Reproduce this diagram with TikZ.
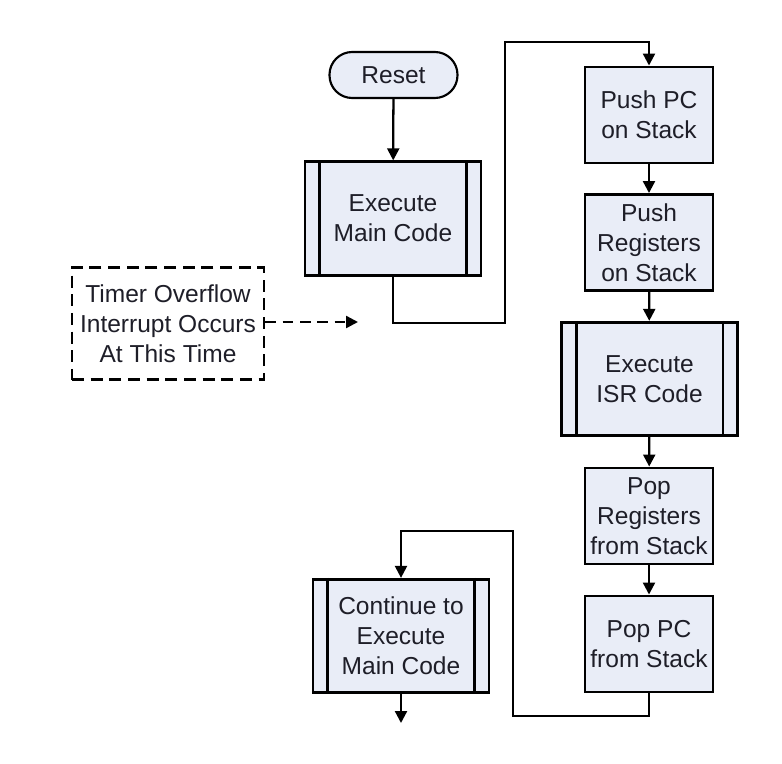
\documentclass[tikz,border=0pt]{standalone}
\usepackage{fontspec}
\setmainfont{Liberation Sans}
\usetikzlibrary{arrows.meta}
\definecolor{boxfill}{RGB}{233,237,247}
\definecolor{txt}{RGB}{30,30,40}
\begin{document}
\begin{tikzpicture}[x=0.75pt,y=-0.75pt,
  every node/.style={font=\fontsize{18.4}{22.5}\selectfont, text=txt, align=center, inner sep=0pt},
  proc/.style={draw=black, line width=2.2pt, fill=boxfill, minimum width=96pt, minimum height=72pt},
  predef/.style={draw=black, line width=2.2pt, fill=boxfill, minimum width=132pt, minimum height=85pt},
  term/.style={draw=black, line width=1.6pt, fill=boxfill, rounded corners=17pt, minimum width=96pt, minimum height=34.5pt},
  note/.style={draw=black, line width=2pt, dash pattern=on 9pt off 5pt, minimum width=144pt, minimum height=84pt},
  conn/.style={line width=1.7pt, -{Triangle[length=9pt,width=9pt]}},
  dconn/.style={line width=1.8pt, dash pattern=on 8pt off 5pt, -{Triangle[length=9pt,width=9pt]}},
  inner/.style={line width=2.2pt}
]
\useasboundingbox (0,0) rectangle (782,764);

\node[term] (reset) at (393.5,75) {Reset};
\node[predef] (main) at (393,218.5) {Execute\\Main Code};
\draw[inner] ([xshift=12pt]main.north west) -- ([xshift=12pt]main.south west);
\draw[inner] ([xshift=-12pt]main.north east) -- ([xshift=-12pt]main.south east);

\node[note] (timer) at (168,323.5) {Timer Overflow\\Interrupt Occurs\\At This Time};
\coordinate (tip) at (358,322);
\draw[dconn] (timer.east |- tip) -- (tip);

\node[proc] (pushpc) at (649,115) {Push PC\\on Stack};
\node[proc] (pushreg) at (649,242.5) {Push\\Registers\\on Stack};
\node[predef] (isr) at (649.5,379) {Execute\\ISR Code};
\draw[inner] ([xshift=12pt]isr.north west) -- ([xshift=12pt]isr.south west);
\draw[inner] ([xshift=-12pt]isr.north east) -- ([xshift=-12pt]isr.south east);
\node[proc] (popreg) at (649,516) {Pop\\Registers\\from Stack};
\node[proc] (poppc) at (649,644) {Pop PC\\from Stack};

\node[predef] (cont) at (401,636) {Continue to\\Execute\\Main Code};
\draw[inner] ([xshift=12pt]cont.north west) -- ([xshift=12pt]cont.south west);
\draw[inner] ([xshift=-12pt]cont.north east) -- ([xshift=-12pt]cont.south east);
\coordinate (out) at (401,723);

\coordinate (a1) at (393,323);
\coordinate (a2) at (505,323);
\coordinate (a3) at (505,42);
\coordinate (a4) at (649,42);
\coordinate (b1) at (649,716);
\coordinate (b2) at (513,716);
\coordinate (b3) at (513,531);
\coordinate (b4) at (401,531);

\draw[conn] (reset) -- (main);
\draw[conn] (main.south) -- (a1) -- (a2) -- (a3) -- (a4) -- (pushpc.north);
\draw[conn] (pushpc) -- (pushreg);
\draw[conn] (pushreg) -- (isr);
\draw[conn] (isr) -- (popreg);
\draw[conn] (popreg) -- (poppc);
\draw[conn] (poppc.south) -- (b1) -- (b2) -- (b3) -- (b4) -- (cont.north);
\draw[conn] (cont.south) -- (out);
\end{tikzpicture}
\end{document}
